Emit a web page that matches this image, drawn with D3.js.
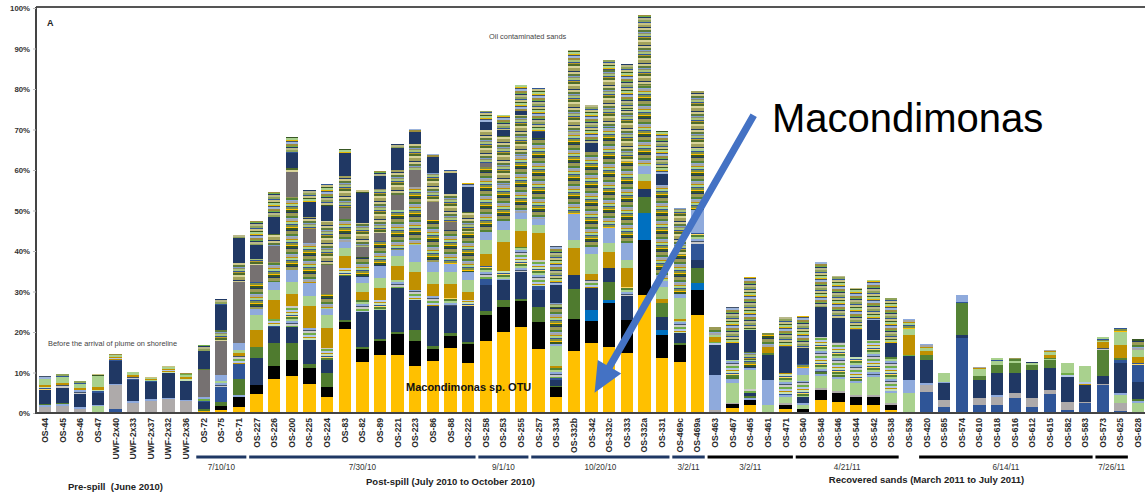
<!DOCTYPE html>
<html>
<head>
<meta charset="utf-8">
<script src="https://cdn.jsdelivr.net/npm/d3@7"></script>
<style>
  html, body { margin: 0; padding: 0; background: #fff; }
  svg { display: block; font-family: "Liberation Sans", Arial, sans-serif; }
</style>
</head>
<body>
<svg id="chart" width="1145" height="495"></svg>
<script>
// ---- Samples (x categories), in sampling order ----
const samples = [
  "OS-44","OS-45","OS-46","OS-47","UWF-2x40","UWF-2x33","UWF-2x37","UWF-2x32","UWF-2x36",
  "OS-72","OS-75","OS-71",
  "OS-227","OS-226","OS-200","OS-225","OS-224","OS-83","OS-82","OS-89","OS-221","OS-223","OS-86","OS-88","OS-222",
  "OS-258","OS-253","OS-255",
  "OS-257","OS-334","OS-332b","OS-342","OS-332c","OS-333","OS-332a","OS-331",
  "OS-469c","OS-469a",
  "OS-463","OS-467","OS-465","OS-461","OS-471",
  "OS-540","OS-548","OS-546","OS-544","OS-542","OS-538",
  "OS-536","OS-420","OS-585","OS-574","OS-610","OS-618","OS-616","OS-612","OS-615","OS-582","OS-583",
  "OS-573","OS-625","OS-628"
];

// ---- Relative abundance (%) of each OTU layer per sample, stacked bottom to top ----
// rows of each array: pre-spill | 7/10/10 | 7/30/10 | 9/1/10 | 10/20/10 | 3/2/11 | 3/2/11 | 4/21/11 | 6/14/11 | 7/26/11
const macondimonas = [
  0,0,0,0,0,0,0,0,0,
  0.5,0.8,1.6,
  4.7,8.4,9.2,7.1,4.0,20.7,12.7,14.3,14.3,11.7,12.8,16.1,12.3,
  17.8,20.1,21.3,
  15.8,3.9,15.4,17.2,16.4,14.7,29.1,13.5,
  12.7,24.2,
  0,1.2,2.0,0,0.9,
  0.3,3.2,2.8,2.0,2.0,0.7,
  0,0,0,0,0,0,0,0,0,0,0,
  0,0,0
];
const otuBlack = [
  0,0,0,0,0,0,0,0,0,
  0,1.0,2.4,
  2.2,3.3,4.0,4.1,2.3,1.8,3.0,3.5,5.1,6.1,2.9,2.9,4.7,
  6.4,6.0,6.4,
  6.7,2.4,7.8,5.6,10.7,8.3,13.6,5.8,
  4.1,6.2,
  0,1.0,1.2,0,1.1,
  0.6,2.4,2.1,2.0,2.0,1.3,
  0,0,0,0,0,0,0,0,0,0,0,
  0,0,0
];
const otuBrightBlue = [
  0,0,0,0,0,0,0,0,0,
  0,0,0,
  0,0,0,0,0,0,0,0,0,0,0,0,0,
  0,0,0,
  0,0,0,2.6,0.8,0,6.6,1.2,
  0,1.6,
  0,0,0,0,0,
  0,0,0,0,0,0,
  0,0,0,0,0,0,0,0,0,0,0,
  0,0,0
];
const otuBlueLow = [
  0,0,0,0,1.0,0,0,0,0,
  0,0,0,
  0,0,0,0,0,0,0,0,0,0,0,0,0,
  0,0,0,
  0,0,0,0,0,0,0,0,
  0,0,
  0,0,0,0,0,
  0,0,0,0,0,0,
  0,5.3,1.6,18.4,2.0,2.0,3.6,1.6,4.7,0.7,2.4,
  6.9,0.5,0
];
const otuGrayLight = [
  1.6,1.8,1.0,0,5.8,2.4,3.0,3.4,2.9,
  0,0,0,
  0,0,0,0,0,0,0,0,0,0,0,0,0,
  0,0,0,
  0,0,0,0,0,0,0,0,
  0,0,
  0.8,0.3,0,0,0.5,
  0,0.5,0.6,0.5,0.5,0.5,
  0,1.6,1.5,0,1.6,2.0,1.3,2.0,1.0,2.1,0.4,
  0.3,2.0,0
];
const otuPaleGreen = [
  0,0,0,1.8,0,0,0,0,0,
  0,0,0,
  0,0,0,0,0,0,0,0,0,0,0,0,0,
  0,0,0,
  0,0,0,0,0,0,0,0,
  0,0,
  0,5.0,0,2.0,1.5,
  1.0,3.0,3.0,3.0,4.5,2.5,
  4.9,0,0,0,0,0,0,0,0,0,0,
  0,2.0,2.4
];
const otuPaleBlue = [
  0.4,0.3,0.4,0.2,0.3,0.6,0.4,0.4,0.4,
  0,0,0.5,
  0,0,0,0,0,0,0,0,0,0,0,0,0,
  0,0,0,
  0,0,0,0,0,0,0,0,
  0,0,
  8.6,1.0,0.5,6.1,0.5,
  0.5,0.5,0.5,0.5,0.5,0.5,
  3.2,0.5,0,0,0,0.4,0,0,0,0,0,
  0,0.5,0.6
];
const otuDarkGreen = [
  0.3,0.3,0.2,0,0,0,0,0,0,
  0.5,1.0,4.0,
  0,5.5,4.0,1.0,3.5,0.4,0.5,0.5,0.6,2.7,0.8,0.8,0.5,
  1.0,1.8,0.5,
  3.7,0.3,7.3,0,4.5,0,4.1,0,
  0.5,3.7,
  0,0.5,0.5,0,0,
  0,0.5,0.5,0,0,0,
  0,0,0,0,0,0,0,0,0,0,0,
  0,0,0.4
];
const otuNavy = [
  3.5,3.8,3.0,3.0,5.7,5.2,4.2,6.0,4.5,
  1.6,0,0,
  6.6,4.1,4.1,5.8,3.3,10.9,8.8,7.1,10.8,7.4,9.8,6.5,8.8,
  6.5,4.9,6.5,
  4.2,1.5,3.6,5.4,3.3,6.0,1.9,3.3,
  2.5,2.0,
  7.4,0,0.8,6.2,0,
  1.6,0,0,0,0,0,
  6.0,5.7,4.2,0.9,4.5,5.4,4.9,7.0,5.3,6.2,4.1,
  2.0,7.3,4.3
];
const otuBlue = [
  0,0,0,0.2,0.3,0.3,0.2,0.2,0.2,
  0.4,3.5,3.5,
  0,0,0,0,0,0,0,0,0,0,0,0,0,
  1.5,0,0,
  1.0,0.5,0,0,0,0,0,0,
  0,4.0,
  0,0,0,0,0,
  0,0,0,0,0,0,
  0,0,0,0,0,0,0,0,0,0,0,
  0,0.7,4.2
];
const otuGreen = [
  0,0,0,0,0,0,0,0,0,
  0,0,0,
  2.8,0,0,0,0,0,0,0,0,0,0,0,0,
  0,0,0,
  0,0,0,0,0,0,0,3.3,
  0,0,
  0,0,0,0,0,
  0,0,0,0,0,0,
  0,1.2,0,7.8,1.0,2.1,2.5,1.2,2.1,0,0,
  6.4,0.5,0
];
const minorLow = [
  0.6,0.8,1.0,0.6,0.4,0.5,0.4,0.5,0.6,
  0.4,1.5,2.0,
  0,2.0,5.0,3.0,3.0,2.0,3.0,2.5,2.0,2.5,2.5,2.0,1.5,
  3.0,2.5,6.3,
  6.4,2.5,0,2.0,0,2.2,0,0,
  3.0,2.7,
  0.8,4.0,1.0,0.5,5.5,
  4.0,8.7,8.1,5.9,8.5,8.4,
  0.2,0,0.8,0.4,0,0,0,0,0.5,0.8,0.8,
  0.5,0,0.5
];
const otuOchre = [
  0.4,0.5,0.6,0.5,0.3,0.3,0.2,0.3,0.3,
  0,0,0.8,
  4.2,4.5,3.0,5.5,5.0,3.0,2.0,3.0,3.5,4.5,3.0,3.5,2.0,
  3.0,7.0,4.0,
  6.6,0.5,6.6,1.5,4.1,4.5,2.0,1.0,
  0.5,0,
  1.2,0,0,1.6,0,
  0,0,0,0,0,0,
  5.0,1.0,0,0,0,0,0,0,0.8,0,0,
  1.5,3.3,1.5
];
const otuLightGreen = [
  1.6,1.4,1.0,2.8,0.4,0.4,0.3,0.5,0.6,
  0,0,0.8,
  3.7,2.5,3.0,2.5,3.0,2.0,2.0,2.5,2.5,2.5,3.0,3.0,3.0,
  3.5,3.0,3.0,
  2.0,5.0,2.0,5.0,2.1,2.0,1.6,3.0,
  5.0,0,
  0.5,0,4.6,0,0,
  1.5,0,0,0,0,0,
  1.5,0.5,1.9,0,1.5,1.0,0.6,0.5,0.6,2.5,4.0,
  0.3,3.3,1.7
];
const otuLightBlue = [
  0,0,0,0,0,0,0,0,0,
  0.5,1.5,1.6,
  1.5,2.0,3.0,3.0,1.5,1.5,1.5,3.0,1.5,4.0,2.5,2.0,2.0,
  2.0,2.0,1.5,
  1.5,0.5,6.4,1.5,3.7,4.2,2.0,1.5,
  1.0,5.7,
  0,0,0.5,0,0,
  1.5,0,0,0,0,0,
  0,0,0,1.6,0,0,0,0,0,0,0,
  0,0,0
];
const minorMid = [
  0,0,0,0,0,0,0,0,0,
  0,0,0,
  6.7,5.0,18.1,10.0,3.9,5.7,5.0,6.0,9.8,14.5,10.4,8.4,10.0,
  16.0,9.0,14.0,
  20.0,9.0,20.0,23.7,25.0,20.0,20.0,23.8,
  10.0,15.0,
  1.9,0,2.0,3.4,0,
  1.0,0,0,0,0,0,
  2.4,1.2,0,0,0.8,0.8,0.6,0.4,0.6,0,0,
  0.8,0.8,2.6
];
const otuGrayDark = [
  0,0,0,0,0,0,0,0,0,
  6.6,8.6,15.2,
  4.1,4.0,6.2,3.5,7.0,2.5,2.5,2.0,3.7,4.1,4.5,2.0,0,
  1.0,0,0,
  0,0,0,0,0,0,0,0,
  0,0,
  0,0,0,0,0,
  0,0,0,0,0,0,
  0,0,0,0,0,0,0,0,0,0,0,
  0,0,0
];
const minorHigh = [
  0,0,0,0,0,0,0,0,0,
  0.4,2.5,4.6,
  1.5,3.0,1.0,3.0,11.0,8.0,5.8,11.0,6.2,6.6,7.0,7.0,4.9,
  8.2,12.0,10.0,
  0,1.0,18.0,0,14.0,12.9,15.0,0,
  11.3,14.5,
  0,0,2.0,0,0,
  0,0,0,0,0,0,
  0,0,0,0,0,0,0,0,0,0,0,
  0,0,0
];
const otuNavyUpper = [
  0,0,0,0,0,0,0,0,0,
  4.4,6.3,6.1,
  3.5,4.0,3.5,3.5,3.5,5.8,7.4,3.0,5.4,2.9,4.1,5.0,6.2,
  2.0,1.5,1.0,
  1.5,4.5,0,2.1,0,0,0,2.5,
  0,0,
  0,4.2,5.4,0,6.4,
  4.0,7.4,5.8,6.6,5.0,3.3,
  0,0,0,0,0,0,0,0,0,0,0,
  0,0,0
];
const minorTop = [
  0.8,0.7,0.7,0.5,0.4,0.4,0.2,0.4,0.4,
  1.6,1.5,0.8,
  6.0,6.3,4.0,3.0,5.5,1.0,0.8,1.4,1.0,0.6,0.7,0.8,1.0,
  2.7,3.8,6.4,
  10.9,9.7,2.5,9.4,2.6,11.4,2.4,10.7,
  0,0,
  0,8.9,13.0,0,7.2,
  8.0,11.0,10.5,10.4,9.8,11.1,
  0,0,0,0,0,0,0,0,0,0,0,
  0,0,0
];

// ---- Axis ticks and group annotations ----
const yTicks = [0,10,20,30,40,50,60,70,80,90,100];
const dateGroups = [
  { label: "7/10/10",  first: "OS-72",   last: "OS-71",   color: "#1F3864" },
  { label: "7/30/10",  first: "OS-227",  last: "OS-222",  color: "#1F3864" },
  { label: "9/1/10",   first: "OS-258",  last: "OS-255",  color: "#1F3864" },
  { label: "10/20/10", first: "OS-257",  last: "OS-331",  color: "#1F3864" },
  { label: "3/2/11",   first: "OS-469c", last: "OS-469a", color: "#1F3864" },
  { label: "3/2/11",   first: "OS-463",  last: "OS-471",  color: "#000000" },
  { label: "4/21/11",  first: "OS-540",  last: "OS-538",  color: "#000000" },
  { label: "6/14/11",  first: "OS-420",  last: "OS-583",  color: "#000000" },
  { label: "7/26/11",  first: "OS-573",  last: "OS-625",  color: "#000000" }
];
const periodTitles = [
  { text: "Pre-spill  (June 2010)",                     first: "OS-44",  last: "UWF-2x36" },
  { text: "Post-spill (July 2010 to October 2010)",     first: "OS-72",  last: "OS-469a" },
  { text: "Recovered sands (March 2011 to July 2011)",  first: "OS-463", last: "OS-628" }
];

// ---- Layer styling: solid OTU colours, striped fills for the many rare OTUs ----
const stripeSets = {
  minorLow:  [["#A9D18E",2],["#8FAADC",2],["#44546A",1],["#C9C9C9",2],["#70AD47",2],["#B4C7E7",2],
              ["#BF9000",1],["#C5E0B4",2],["#2F5597",1],["#FFD966",1],["#548235",2]],
  minorMid:  [["#203864",1],["#9A9A55",3],["#548235",2],["#8FAADC",1],["#A5A5A5",2],["#BF9000",1],
              ["#A9D18E",2],["#2F5597",1],["#7F8F45",2],["#FFC000",1],["#385723",2]],
  minorHigh: [["#A3A25C",3],["#203864",1],["#CFC98E",2],["#5E7A3A",2],["#7F9FD0",1],["#8C8C6C",1],
              ["#A9C27A",2],["#2F5597",1],["#B79A2A",1],["#4F6B2A",2],["#D8D49A",2]],
  minorTop:  [["#8FA35A",2],["#2F5597",1],["#C8C284",2],["#385723",1],["#A9D18E",2],["#E6B800",1],
              ["#44546A",1],["#9CB4DC",2],["#9C8C3C",2],["#70AD47",1],["#1F3864",1],["#B8B88A",2]]
};

const layers = [
  { key: "macondimonas",  values: macondimonas,  fill: "#FFC000" },
  { key: "otuBlack",      values: otuBlack,      fill: "#000000" },
  { key: "otuBrightBlue", values: otuBrightBlue, fill: "#0070C0" },
  { key: "otuBlueLow",    values: otuBlueLow,    fill: "#2F5597" },
  { key: "otuGrayLight",  values: otuGrayLight,  fill: "#AEAAAA" },
  { key: "otuPaleGreen",  values: otuPaleGreen,  fill: "#A9D18E" },
  { key: "otuPaleBlue",   values: otuPaleBlue,   fill: "#8FAADC" },
  { key: "otuDarkGreen",  values: otuDarkGreen,  fill: "#4F7B2F" },
  { key: "otuNavy",       values: otuNavy,       fill: "#203864" },
  { key: "otuBlue",       values: otuBlue,       fill: "#2F5597" },
  { key: "otuGreen",      values: otuGreen,      fill: "#548235" },
  { key: "minorLow",      values: minorLow,      stripes: true },
  { key: "otuOchre",      values: otuOchre,      fill: "#C09000" },
  { key: "otuLightGreen", values: otuLightGreen, fill: "#A9D18E" },
  { key: "otuLightBlue",  values: otuLightBlue,  fill: "#8FAADC" },
  { key: "minorMid",      values: minorMid,      stripes: true },
  { key: "otuGrayDark",   values: otuGrayDark,   fill: "#767171" },
  { key: "minorHigh",     values: minorHigh,     stripes: true },
  { key: "otuNavyUpper",  values: otuNavyUpper,  fill: "#203864" },
  { key: "minorTop",      values: minorTop,      stripes: true }
];

// ---- Scales ----
const svg = d3.select("#chart");
const x = d3.scaleBand().domain(samples).range([37, 1146.1]).paddingInner(0.3).paddingOuter(0.104);
const y = d3.scaleLinear().domain([0, 100]).range([413, 8]);
const bw = x.bandwidth();
const step = x.step();

// ---- Stripe patterns (several phase shifts so neighbouring bars differ) ----
const defs = svg.append("defs");
const PHASES = 9;
Object.entries(stripeSets).forEach(([key, stripes]) => {
  const period = d3.sum(stripes, s => s[1]);
  for (let v = 0; v < PHASES; v++) {
    const p = defs.append("pattern")
      .attr("id", `${key}-${v}`)
      .attr("patternUnits", "userSpaceOnUse")
      .attr("width", 20).attr("height", period)
      .attr("patternTransform", `translate(0,${(v * 7) % period})`);
    let yy = 0;
    stripes.forEach(([c, h]) => {
      p.append("rect").attr("x", 0).attr("y", yy).attr("width", 20).attr("height", h).attr("fill", c);
      yy += h;
    });
  }
});

// ---- Stacked bars ----
const rows = samples.map((s, i) => {
  const r = { sample: s, index: i };
  layers.forEach(l => { r[l.key] = l.values[i]; });
  return r;
});
const stacked = d3.stack().keys(layers.map(l => l.key))(rows);

const gBars = svg.append("g").attr("shape-rendering", "crispEdges");
stacked.forEach((series, li) => {
  const L = layers[li];
  gBars.append("g")
    .selectAll("rect")
    .data(series.filter(d => d[1] - d[0] > 0))
    .join("rect")
      .attr("x", d => x(d.data.sample))
      .attr("width", bw)
      .attr("y", d => y(d[1]))
      .attr("height", d => y(d[0]) - y(d[1]))
      .attr("fill", d => L.stripes ? `url(#${L.key}-${(d.data.index + li) % PHASES})` : L.fill);
});

// ---- Frame and axes ----
svg.append("line")
  .attr("x1", 36).attr("x2", 1145).attr("y1", 7).attr("y2", 7)
  .attr("stroke", "#555").attr("stroke-width", 2);

const gy = svg.append("g")
  .attr("transform", "translate(36,0)")
  .call(d3.axisLeft(y).tickValues(yTicks).tickFormat(d => d + "%").tickSize(3).tickSizeOuter(0).tickPadding(3));
gy.select(".domain").attr("stroke", "#444").attr("stroke-width", 2).attr("d", `M0,${y(0)}V7`);
gy.selectAll(".tick line").attr("stroke", "#bbb");
gy.selectAll(".tick text")
  .attr("font-size", 7.8).attr("font-weight", "bold").attr("fill", "#333")
  .attr("font-family", "'Liberation Sans', Arial, sans-serif");

svg.append("line")
  .attr("x1", 35).attr("x2", 1145).attr("y1", y(0)).attr("y2", y(0))
  .attr("stroke", "#444").attr("stroke-width", 2);

const gx = svg.append("g")
  .attr("transform", `translate(0,${y(0)})`)
  .call(d3.axisBottom(x).tickSize(0).tickPadding(0));
gx.select(".domain").remove();
gx.selectAll(".tick text")
  .attr("transform", "rotate(-90)")
  .attr("x", -5).attr("y", 0).attr("dy", "0.35em")
  .attr("text-anchor", "end")
  .attr("font-size", 8.6).attr("font-weight", "bold").attr("fill", "#2a2a2a")
  .attr("font-family", "'Liberation Sans', Arial, sans-serif");

// ---- Sampling-date brackets ----
const gDates = svg.append("g");
dateGroups.forEach(g => {
  const x0 = x(g.first) + bw / 2 - 0.42 * step;
  const x1 = x(g.last) + bw / 2 + 0.42 * step;
  gDates.append("line")
    .attr("x1", x0).attr("x2", x1).attr("y1", 457).attr("y2", 457)
    .attr("stroke", g.color).attr("stroke-width", 3.2);
  gDates.append("text")
    .attr("x", (x0 + x1) / 2).attr("y", 470)
    .attr("text-anchor", "middle").attr("font-size", 8.2).attr("fill", "#333")
    .text(g.label);
});

// ---- Period titles ----
periodTitles.forEach((p, i) => {
  const cx = (x(p.first) + x(p.last) + bw) / 2;
  svg.append("text")
    .attr("x", cx).attr("y", [490, 485, 483][i])
    .attr("text-anchor", "middle")
    .attr("font-size", 9.5).attr("font-weight", "bold").attr("fill", "#222")
    .style("white-space", "pre")
    .text(p.text);
});

// ---- In-plot notes ----
svg.append("text").attr("x", 47).attr("y", 26)
  .attr("font-size", 9).attr("font-weight", "bold").attr("fill", "#222").text("A");
svg.append("text").attr("x", 48).attr("y", 346)
  .attr("font-size", 7.4).attr("fill", "#444").text("Before the arrival of plume on shoreline");
svg.append("text").attr("x", 489).attr("y", 39)
  .attr("font-size", 7.4).attr("fill", "#444").text("Oil contaminated sands");
svg.append("text").attr("x", 406).attr("y", 391)
  .attr("font-size", 11).attr("font-weight", "bold").attr("fill", "#111").text("Macondimonas sp. OTU");

// ---- Callout arrow pointing at the Macondimonas layer ----
const tip  = [x("OS-342") + bw / 2 + 3, y(5)];
const tail = [x("OS-461") - 8, y(73.5)];
const dx = tip[0] - tail[0], dy = tip[1] - tail[1];
const len = Math.hypot(dx, dy);
const ux = dx / len, uy = dy / len, nx = -uy, ny = ux;
const shaftHalf = 3.6, headLen = 30, headHalf = 13.5;
const bx = tip[0] - ux * headLen, by = tip[1] - uy * headLen;
const arrowPts = [
  [tail[0] + nx * shaftHalf, tail[1] + ny * shaftHalf],
  [bx + nx * shaftHalf, by + ny * shaftHalf],
  [bx + nx * headHalf, by + ny * headHalf],
  tip,
  [bx - nx * headHalf, by - ny * headHalf],
  [bx - nx * shaftHalf, by - ny * shaftHalf],
  [tail[0] - nx * shaftHalf, tail[1] - ny * shaftHalf]
];
svg.append("path")
  .attr("d", d3.line()(arrowPts) + "Z")
  .attr("fill", "#4472C4");

svg.append("text").attr("x", 772).attr("y", 132)
  .attr("font-size", 40).attr("fill", "#000")
  .attr("font-family", "'Liberation Sans', Arial, sans-serif")
  .text("Macondimonas");
</script>
</body>
</html>
